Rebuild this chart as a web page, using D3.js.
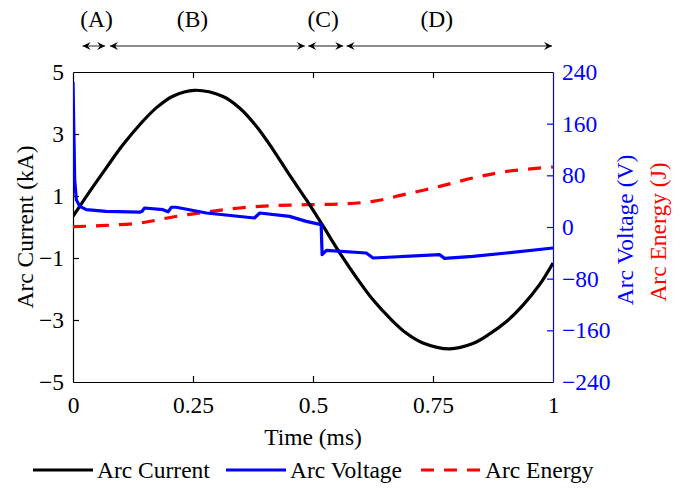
<!DOCTYPE html>
<html><head><meta charset="utf-8">
<script src="https://cdn.jsdelivr.net/npm/d3@7"></script>
<style>
body{margin:0;background:#fff}
svg{display:block;font-family:"Liberation Serif","Times New Roman",serif}
</style>
</head><body>
<svg id="c" width="684" height="489"></svg>
<script>
// ---- data ----
const timeTicks = [0, 0.25, 0.5, 0.75, 1];
const timeTickLabels = ["0", "0.25", "0.5", "0.75", "1"];
const currentTicks = [5, 3, 1, -1, -3, -5];
const voltageTicks = [240, 160, 80, 0, -80, -160, -240];

const currentT  = [0, 0.035, 0.069, 0.104, 0.139, 0.174, 0.208, 0.253, 0.3125, 0.347, 0.382, 0.417, 0.451, 0.486, 0.517, 0.556, 0.59, 0.625, 0.66, 0.694, 0.729, 0.785, 0.833, 0.868, 0.903, 0.9375, 0.972, 1.0];
const currentKA = [0.34, 1.15, 1.9, 2.65, 3.3, 3.85, 4.22, 4.41, 4.21, 3.84, 3.25, 2.49, 1.68, 0.88, 0.13, -0.84, -1.62, -2.35, -2.94, -3.42, -3.74, -3.93, -3.76, -3.45, -3.05, -2.52, -1.86, -1.16];

const voltageT = [0, 0.0035, 0.007, 0.014, 0.028, 0.069, 0.139, 0.144, 0.149, 0.1875, 0.198, 0.205, 0.215, 0.278, 0.378, 0.389, 0.451, 0.486, 0.517, 0.519, 0.528, 0.611, 0.625, 0.764, 0.774, 0.833, 0.903, 1.0];
const voltageV = [225, 73, 42, 32, 26.8, 24.2, 23, 24.5, 29.4, 26.8, 23.5, 30.6, 30.6, 21.7, 13.9, 21.7, 16.4, 8.7, 3.6, -42.9, -36.2, -40.3, -48, -42.9, -48.6, -45.5, -40.3, -32.5];

const energyT = [0, 0.069, 0.139, 0.208, 0.278, 0.347, 0.417, 0.486, 0.556, 0.625, 0.694, 0.764, 0.833, 0.903, 1.0];
const energyJ = [0.5, 2.5, 6.2, 15.5, 23.2, 29.4, 33, 34.5, 35.6, 39.7, 51, 62.9, 75.9, 86, 92.9];

const phaseNames = ["(A)", "(B)", "(C)", "(D)"];
const phaseStart = [0.02, 0.077, 0.49, 0.57];
const phaseEnd   = [0.067, 0.483, 0.563, 0.998];
const phaseLabelT = [0.049, 0.249, 0.521, 0.758];

const seriesNames = ["Arc Current", "Arc Voltage", "Arc Energy"];

// ---- layout ----
const svg = d3.select("#c");
const L = 73, R = 553, T = 72, B = 382;
const FS = 23.5;
const blue = "#0000ff", red = "#ff0000";

const x = d3.scaleLinear().domain([0, 1]).range([L, R]);
const yI = d3.scaleLinear().domain([-5, 5]).range([B, T]);
const yV = d3.scaleLinear().domain([-240, 240]).range([B, T]);

// axes
const gx = svg.append("g").attr("transform", `translate(0,${B})`)
  .call(d3.axisBottom(x).tickValues(timeTicks).tickFormat((d, i) => timeTickLabels[i]).tickSizeInner(-6).tickSizeOuter(0).tickPadding(14));
const gt = svg.append("g").attr("transform", `translate(0,${T})`)
  .call(d3.axisTop(x).tickValues(timeTicks).tickFormat("").tickSizeInner(-6).tickSizeOuter(0));
const gl = svg.append("g").attr("transform", `translate(${L},0)`)
  .call(d3.axisLeft(yI).tickValues(currentTicks).tickSizeInner(-6).tickSizeOuter(0).tickPadding(9));
const gr = svg.append("g").attr("transform", `translate(${R},0)`)
  .call(d3.axisRight(yV).tickValues(voltageTicks).tickSizeInner(-6).tickSizeOuter(0).tickPadding(9));

[gx, gt, gl].forEach(g => {
  g.selectAll("path,line").attr("stroke", "#000").attr("stroke-width", 1.2);
  g.selectAll("text").attr("font-size", FS).attr("fill", "#000");
  g.attr("font-family", null);
});
gr.selectAll("path,line").attr("stroke", blue).attr("stroke-width", 1.2);
gr.selectAll("text").attr("font-size", FS).attr("fill", blue);
gr.attr("font-family", null);
gx.selectAll(".tick").filter(d => d === 0 || d === 1).select("line").remove();
gt.selectAll(".tick").filter(d => d === 0 || d === 1).select("line").remove();
gl.selectAll(".tick").filter(d => d === 5 || d === -5).select("line").remove();
gr.selectAll(".tick").filter(d => d === 240 || d === -240).select("line").remove();

// axis titles
svg.append("text").attr("x", (L + R) / 2).attr("y", 445).attr("text-anchor", "middle")
  .attr("font-size", FS).text("Time (ms)");
svg.append("text").attr("transform", "translate(33,227) rotate(-90)").attr("text-anchor", "middle")
  .attr("font-size", FS).text("Arc Current (kA)");
svg.append("text").attr("transform", "translate(633,230) rotate(-90)").attr("text-anchor", "middle")
  .attr("font-size", FS).attr("fill", blue).text("Arc Voltage (V)");
svg.append("text").attr("transform", "translate(666,232) rotate(-90)").attr("text-anchor", "middle")
  .attr("font-size", FS).attr("fill", red).text("Arc Energy (J)");

// lines
svg.append("clipPath").attr("id", "clp").append("rect")
  .attr("x", L).attr("y", T).attr("width", R - L).attr("height", B - T);
const plot = svg.append("g").attr("clip-path", "url(#clp)");

const curData = currentT.map((t, i) => [t, currentKA[i]]);
const volData = voltageT.map((t, i) => [t, voltageV[i]]);
const eneData = energyT.map((t, i) => [t, energyJ[i]]);

plot.append("path").datum(eneData)
  .attr("d", d3.line().x(d => x(d[0])).y(d => yV(d[1])).curve(d3.curveCatmullRom.alpha(0.5)))
  .attr("fill", "none").attr("stroke", red).attr("stroke-width", 3.2).attr("stroke-dasharray", "13,10");
plot.append("path").datum(curData)
  .attr("d", d3.line().x(d => x(d[0])).y(d => yI(d[1])).curve(d3.curveCatmullRom.alpha(0.5)))
  .attr("fill", "none").attr("stroke", "#000").attr("stroke-width", 3.2);
plot.append("path").datum(volData)
  .attr("d", d3.line().x(d => x(d[0])).y(d => yV(d[1])))
  .attr("fill", "none").attr("stroke", blue).attr("stroke-width", 3.2).attr("stroke-linejoin", "round");

// phase arrows
const defs = svg.append("defs");
defs.append("marker").attr("id", "ah").attr("viewBox", "0 0 10 10")
  .attr("refX", 10).attr("refY", 5).attr("markerWidth", 9).attr("markerHeight", 8)
  .attr("markerUnits", "userSpaceOnUse").attr("orient", "auto-start-reverse")
  .append("path").attr("d", "M0,0 L10,5 L0,10 L3.5,5 Z").attr("fill", "#000");
const AY = 46;
phaseNames.forEach((p, i) => {
  svg.append("line").attr("x1", x(phaseStart[i])).attr("x2", x(phaseEnd[i]))
    .attr("y1", AY).attr("y2", AY).attr("stroke", "#666").attr("stroke-width", 1.4)
    .attr("marker-start", "url(#ah)").attr("marker-end", "url(#ah)");
  svg.append("text").attr("x", x(phaseLabelT[i])).attr("y", 27).attr("text-anchor", "middle")
    .attr("font-size", FS).text(p);
});

// legend
const legX = [33, 226, 421];
const legStyle = [{c: "#000", d: null}, {c: blue, d: null}, {c: red, d: "13,10"}];
seriesNames.forEach((s, i) => {
  svg.append("line").attr("x1", legX[i]).attr("x2", legX[i] + 60).attr("y1", 470).attr("y2", 470)
    .attr("stroke", legStyle[i].c).attr("stroke-width", 3.2).attr("stroke-dasharray", legStyle[i].d);
  svg.append("text").attr("x", legX[i] + 64).attr("y", 478).attr("font-size", FS).text(s);
});
</script>
</body></html>
